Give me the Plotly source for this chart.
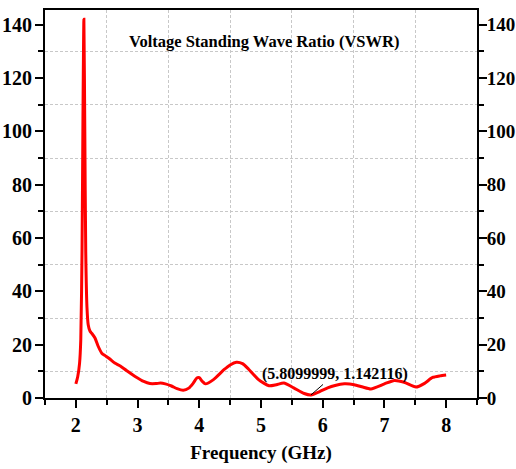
import plotly.graph_objects as go

freq = [2.0, 2.03, 2.06, 2.08, 2.1, 2.115, 2.13, 2.145, 2.16, 2.18, 2.2, 2.23, 2.26, 2.31,
        2.36, 2.42, 2.48, 2.54, 2.63, 2.72, 2.82, 2.96, 3.1, 3.2, 3.3, 3.37, 3.45, 3.55,
        3.64, 3.74, 3.83, 3.9, 3.96, 4.0, 4.05, 4.1, 4.23, 4.4, 4.5, 4.6, 4.7, 4.8, 4.96,
        5.13, 5.25, 5.37, 5.53, 5.7, 5.81, 5.95, 6.08, 6.2, 6.35, 6.51, 6.65, 6.78,
        7.0, 7.16, 7.32, 7.51, 7.65, 7.78, 7.9, 8.0]
vswr = [5.3, 8.0, 13.0, 22.0, 55.0, 105.0, 142.0, 100.0, 55.0, 34.0, 27.5, 25.0, 24.2, 22.5,
        19.5, 16.8, 15.8, 14.8, 13.1, 12.0, 10.3, 8.1, 6.2, 5.4, 5.4, 5.6, 5.3, 4.5,
        3.5, 2.9, 3.7, 5.5, 7.5, 7.6, 6.2, 5.3, 6.9, 10.6, 12.4, 13.4, 12.9, 10.8, 6.9,
        4.6, 5.0, 5.6, 3.8, 1.7, 1.142116, 2.4, 3.8, 4.7, 5.3, 5.0, 4.1, 3.4,
        5.3, 6.6, 5.9, 4.1, 5.5, 7.7, 8.3, 8.6]

marker_x = 5.8099999
marker_y = 1.142116
title_text = "Voltage Standing Wave Ratio (VSWR)"
x_title = "Frequency (GHz)"

FONT = "Times New Roman, Liberation Serif, serif"

fig = go.Figure()
fig.add_trace(go.Scatter(x=freq, y=vswr, mode="lines",
                         line=dict(color="#ff0000", width=3, shape="spline", smoothing=0.6),
                         showlegend=False, hoverinfo="skip"))
fig.add_trace(go.Scatter(x=freq, y=vswr, mode="lines", yaxis="y2",
                         line=dict(color="rgba(0,0,0,0)", width=0),
                         showlegend=False, hoverinfo="skip"))

axis_common = dict(
    showline=True, linecolor="black", linewidth=2,
    ticks="outside", ticklen=8, tickwidth=2, tickcolor="black",
    showgrid=False, zeroline=False, automargin=False,
)

def tfont(size):
    return dict(family=FONT, size=size, color="black", weight="bold")

GRID_DASH = "3px,2px"

fig.update_layout(
    width=516, height=469,
    margin=dict(l=45, r=39, t=10, b=71, autoexpand=False),
    paper_bgcolor="white", plot_bgcolor="white",
    font=dict(family=FONT, color="black"),
    xaxis=dict(range=[1.5, 8.5], tick0=0, dtick=1, mirror=True, tickfont=tfont(20),
               minor=dict(dtick=0.5, ticks="outside", ticklen=5, tickwidth=2, tickcolor="black",
                          showgrid=True, gridcolor="#c8c8c8", gridwidth=1, griddash=GRID_DASH),
               title=dict(text=x_title, font=tfont(19), standoff=11),
               **axis_common),
    yaxis=dict(range=[0, 145.5], tick0=0, dtick=20, ticklabelstandoff=-1, tickfont=tfont(20),
               minor=dict(dtick=10, ticks="outside", ticklen=5, tickwidth=2, tickcolor="black",
                          showgrid=True, gridcolor="#c8c8c8", gridwidth=1, griddash=GRID_DASH),
               **axis_common),
    yaxis2=dict(range=[0, 145.5], tick0=0, dtick=20, overlaying="y", side="right",
                ticklabelstandoff=-4, tickfont=tfont(19),
                minor=dict(dtick=10, ticks="outside", ticklen=5, tickwidth=2, tickcolor="black"),
                **axis_common),
    annotations=[
        dict(text="<b>" + title_text + "</b>", xref="paper", yref="paper", x=0.507, y=0.92,
             xanchor="center", yanchor="middle", showarrow=False,
             font=dict(family=FONT, size=16.5, color="black")),
        dict(text="<b>(5.8099999, 1.142116)</b>", x=marker_x, y=marker_y, xref="x", yref="y",
             ax=24, ay=-21, showarrow=True, arrowhead=0, arrowwidth=1, arrowcolor="black",
             standoff=0, font=dict(family=FONT, size=16, color="black")),
    ],
)

fig.write_html("out.html")
